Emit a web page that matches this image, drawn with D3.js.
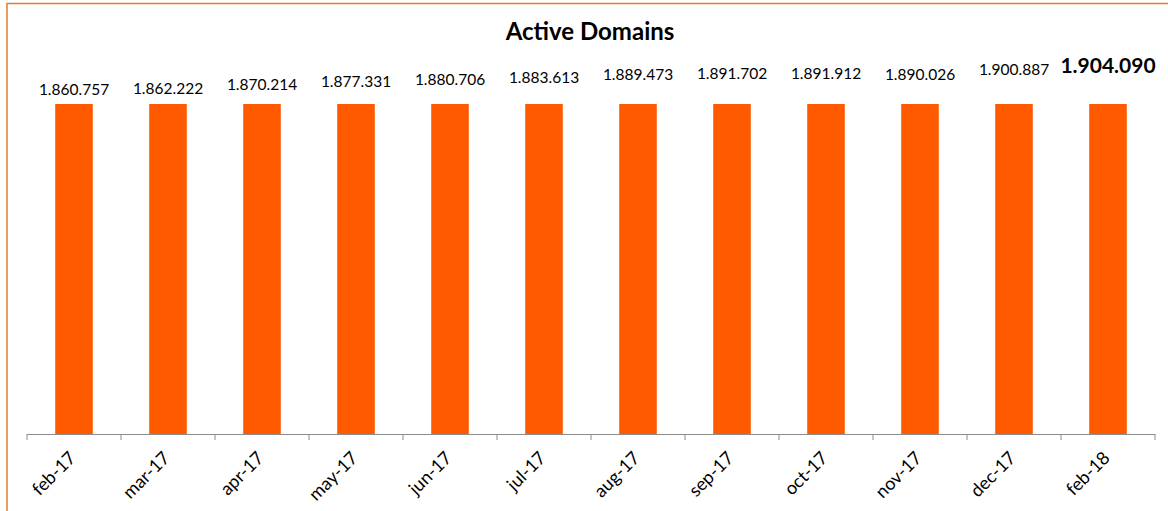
<!DOCTYPE html>
<html>
<head>
<meta charset="utf-8">
<script src="https://cdnjs.cloudflare.com/ajax/libs/d3/7.8.5/d3.min.js"></script>
<style>
  body { margin: 0; background: #fff; }
  svg { display: block; font-family: Lato, "Open Sans", sans-serif; }
</style>
</head>
<body>
<div id="chart"></div>
<script>
const months = ['feb-17', 'mar-17', 'apr-17', 'may-17', 'jun-17', 'jul-17',
                'aug-17', 'sep-17', 'oct-17', 'nov-17', 'dec-17', 'feb-18'];
const domains = [1860757, 1862222, 1870214, 1877331, 1880706, 1883613,
                 1889473, 1891702, 1891912, 1890026, 1900887, 1904090];
// bars are drawn at a flat level in the original, labels follow the values
const barLevel = [100, 100, 100, 100, 100, 100, 100, 100, 100, 100, 100, 100];

const W = 1168, H = 511;
const plot = { left: 27, right: 1155, top: 104, bottom: 434 };
const orange = '#ff5a00';

const fmt = v => d3.format(',')(v).replace(/,/g, '.');

const svg = d3.select('#chart').append('svg')
    .attr('width', W)
    .attr('height', H);

// outer border (only top and left edges show)
svg.append('rect')
    .attr('x', 7).attr('y', 3.5)
    .attr('width', W + 20).attr('height', H + 20)
    .attr('fill', 'none')
    .attr('stroke', '#e57c33')
    .attr('stroke-width', 1.5);

svg.append('text')
    .attr('x', 590)
    .attr('y', 40)
    .attr('text-anchor', 'middle')
    .attr('font-size', 24)
    .attr('font-weight', 'bold')
    .attr('fill', '#000')
    .text('Active Domains');

const x = d3.scaleBand()
    .domain(months)
    .range([plot.left, plot.right])
    .paddingInner(0.6)
    .paddingOuter(0.3);

const y = d3.scaleLinear()
    .domain([0, 100])
    .range([plot.bottom, plot.top]);

// secondary scale for the value labels
const y2 = d3.scaleLinear()
    .domain([1860757, 1904090])
    .range([95, 73]);

svg.selectAll('.bar')
    .data(months)
    .enter()
    .append('rect')
    .attr('class', 'bar')
    .attr('x', d => x(d))
    .attr('y', (d, i) => y(barLevel[i]))
    .attr('width', x.bandwidth())
    .attr('height', (d, i) => y(0) - y(barLevel[i]))
    .attr('fill', orange);

// x axis with ticks between categories
const axis = svg.append('g')
    .attr('transform', `translate(0,${plot.bottom})`);

axis.append('line')
    .attr('x1', plot.left).attr('x2', plot.right)
    .attr('y1', 0.5).attr('y2', 0.5)
    .attr('stroke', '#8c8c8c');

const step = (plot.right - plot.left) / months.length;
axis.selectAll('.tick')
    .data(d3.range(months.length + 1))
    .enter()
    .append('line')
    .attr('x1', i => plot.left + i * step)
    .attr('x2', i => plot.left + i * step)
    .attr('y1', 0).attr('y2', 6)
    .attr('stroke', '#8c8c8c');

axis.selectAll('.xlab')
    .data(months)
    .enter()
    .append('text')
    .attr('class', 'xlab')
    .attr('transform', d => `translate(${x(d) + x.bandwidth() / 2 + 3},${25}) rotate(-45)`)
    .attr('text-anchor', 'end')
    .attr('font-size', 18)
    .attr('fill', '#000')
    .text(d => d);

// value labels
svg.selectAll('.val')
    .data(months)
    .enter()
    .append('text')
    .attr('class', 'val')
    .attr('x', d => x(d) + x.bandwidth() / 2)
    .attr('y', (d, i) => y2(domains[i]))
    .attr('text-anchor', 'middle')
    .attr('font-size', (d, i) => i === months.length - 1 ? 21 : 15.5)
    .attr('font-weight', (d, i) => i === months.length - 1 ? 'bold' : 'normal')
    .attr('fill', '#000')
    .text((d, i) => fmt(domains[i]));
</script>
</body>
</html>
